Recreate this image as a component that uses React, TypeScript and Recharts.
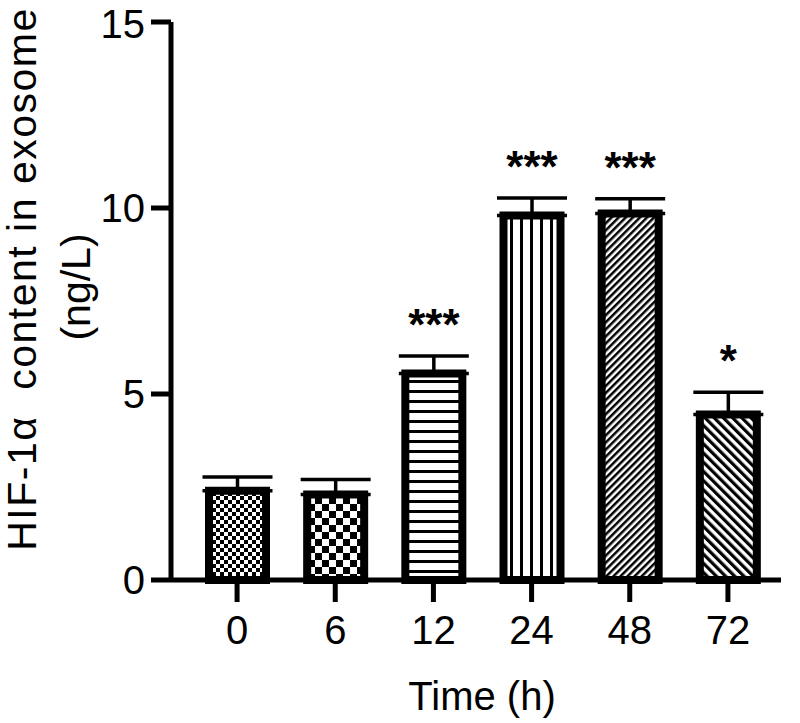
import React from 'react';
import { BarChart, Bar, XAxis, YAxis, Cell, ErrorBar, LabelList } from 'recharts';

const times = ['0', '6', '12', '24', '48', '72'];
const means = [2.4, 2.3, 5.55, 9.8, 9.85, 4.45];
const sds = [0.37, 0.4, 0.47, 0.47, 0.4, 0.6];
const stars = ['', '', '***', '***', '***', '*'];
const yTicks = [0, 5, 10, 15];

const FONT = '"Liberation Sans", Arial, sans-serif';

const data = times.map((t, i) => ({ time: t, mean: means[i], err: [0, sds[i]], sig: stars[i] }));

const YLabel = () => (
  <g fontFamily={FONT} fontSize={41} fill="#000">
    <text transform="translate(36, 279) rotate(-90)" textAnchor="middle" letterSpacing={1.5}>
      {'HIF-1α\u00a0 content in exosome'}
    </text>
    <text transform="translate(90, 287) rotate(-90)" textAnchor="middle">(ng/L)</text>
  </g>
);

const XLabel = ({ viewBox }: any) => (
  <text x={viewBox.x + viewBox.width / 2 + 6} y={710} textAnchor="middle" fontFamily={FONT} fontSize={40} fill="#000">
    Time (h)
  </text>
);

const Stars = (props: any) => {
  const { x, y, width, height, value, index } = props;
  if (!value) return null;
  const perUnit = height / means[index];
  const capY = y - sds[index] * perUnit;
  return (
    <text x={x + width / 2} y={capY - 16} textAnchor="middle" fontFamily={FONT} fontSize={44} fontWeight="bold" fill="#000">
      {value}
    </text>
  );
};

export default function App() {
  return (
    <div style={{ position: 'absolute', left: 0, top: 0, background: '#fff' }}>
      <BarChart width={800} height={723} data={data} margin={{ top: 22, right: 19, bottom: 0, left: 0 }}>
        <defs>
          <pattern id="p0" width={8} height={8} patternUnits="userSpaceOnUse">
            <rect width={8} height={8} fill="#fff" />
            <rect width={4} height={4} fill="#000" />
            <rect x={4} y={4} width={4} height={4} fill="#000" />
          </pattern>
          <pattern id="p1" width={14} height={14} patternUnits="userSpaceOnUse">
            <rect width={14} height={14} fill="#fff" />
            <rect width={7} height={7} fill="#000" />
            <rect x={7} y={7} width={7} height={7} fill="#000" />
          </pattern>
          <pattern id="p2" width={10} height={10} patternUnits="userSpaceOnUse">
            <rect width={10} height={10} fill="#fff" />
            <rect width={10} height={3} fill="#000" />
          </pattern>
          <pattern id="p3" width={10} height={10} patternUnits="userSpaceOnUse">
            <rect width={10} height={10} fill="#fff" />
            <rect width={3} height={10} fill="#000" />
          </pattern>
          <pattern id="p4" width={5} height={5} patternUnits="userSpaceOnUse" patternTransform="rotate(45)">
            <rect width={5} height={5} fill="#fff" />
            <rect width={2.5} height={5} fill="#000" />
          </pattern>
          <pattern id="p5" width={6.5} height={6.5} patternUnits="userSpaceOnUse" patternTransform="rotate(-45)">
            <rect width={6.5} height={6.5} fill="#fff" />
            <rect width={3.2} height={6.5} fill="#000" />
          </pattern>
        </defs>
        <XAxis
          dataKey="time"
          height={143}
          padding={{ left: 17, right: 4 }}
          axisLine={{ stroke: '#000', strokeWidth: 5 }}
          tickLine={{ stroke: '#000', strokeWidth: 5 }}
          tickSize={22}
          tickMargin={14}
          tick={{ fill: '#000', fontSize: 40, fontFamily: FONT }}
          label={<XLabel />}
        />
        <YAxis
          domain={[0, 15]}
          ticks={yTicks}
          width={171}
          axisLine={{ stroke: '#000', strokeWidth: 5 }}
          tickLine={{ stroke: '#000', strokeWidth: 5 }}
          tickSize={20}
          tickMargin={6}
          tick={{ fill: '#000', fontSize: 40, fontFamily: FONT }}
          label={<YLabel />}
        />
        <Bar dataKey="mean" barSize={57} stroke="#000" strokeWidth={8} isAnimationActive={false}>
          {data.map((d, i) => (
            <Cell key={d.time} fill={`url(#p${i})`} />
          ))}
          <ErrorBar dataKey="err" width={35} stroke="#000" strokeWidth={3.5} direction="y" />
          <LabelList dataKey="sig" content={<Stars />} />
        </Bar>
      </BarChart>
    </div>
  );
}
